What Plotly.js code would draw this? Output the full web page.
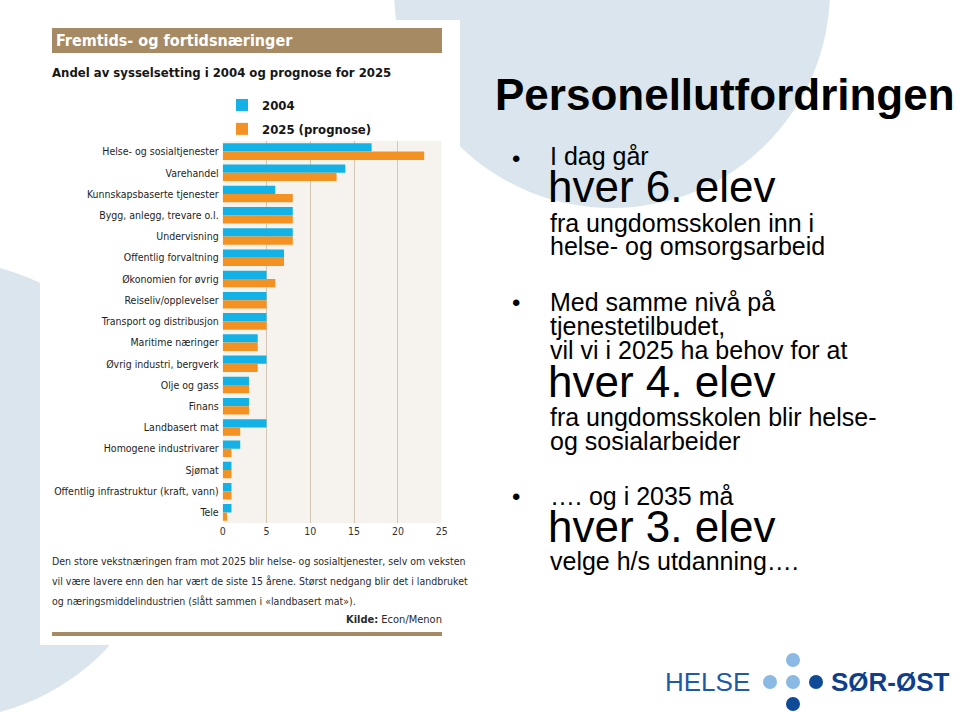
<!DOCTYPE html>
<html>
<head>
<meta charset="utf-8">
<script src="https://cdn.plot.ly/plotly-3.0.1.min.js"></script>
<style>html,body{margin:0;padding:0;background:#fff;}#chart{width:960px;height:712px;}</style>
</head>
<body>
<div id="chart"></div>
<script>
// ---- data ----
const categories = ["Helse- og sosialtjenester","Varehandel","Kunnskapsbaserte tjenester","Bygg, anlegg, trevare o.l.","Undervisning","Offentlig forvaltning","Økonomien for øvrig","Reiseliv/opplevelser","Transport og distribusjon","Maritime næringer","Øvrig industri, bergverk","Olje og gass","Finans","Landbasert mat","Homogene industrivarer","Sjømat","Offentlig infrastruktur (kraft, vann)","Tele"];
const values2004 = [17,14,6,8,8,7,5,5,5,4,5,3,3,5,2,1,1,1];
const values2025 = [23,13,8,8,8,7,6,5,5,4,4,3,3,2,1,1,1,0.5];
const seriesNames = ["2004","2025 (prognose)"];
const xTicks = [0,5,10,15,20,25];

const W = 960, H = 712;
const X = p => p / W;
const Y = p => 1 - p / H;
const NARROW = "Liberation Sans Narrow, DejaVu Sans Condensed, Arial Narrow, sans-serif";
const ARIAL = "Liberation Sans, Arial, sans-serif";
const plotTop = 141, plotBottom = 523, plotLeft = 222.7, plotRight = 441.7;

const traces = [
  {type:'bar', orientation:'h', name:seriesNames[0], y:categories, x:values2004,
   marker:{color:'#12b2e6'}, legendgroup:'a', hoverinfo:'x+y'},
  {type:'bar', orientation:'h', name:seriesNames[1], y:categories, x:values2025,
   marker:{color:'#f39122'}, legendgroup:'b', hoverinfo:'x+y'}
];

function circ(cx, cy, r, color){
  return {type:'circle', xref:'paper', yref:'paper', x0:X(cx-r), x1:X(cx+r), y0:Y(cy+r), y1:Y(cy-r),
          fillcolor:color, line:{width:0}, layer:'below'};
}
function rect(x0,y0,x1,y1,color){
  return {type:'rect', xref:'paper', yref:'paper', x0:X(x0), x1:X(x1), y0:Y(y1), y1:Y(y0),
          fillcolor:color, line:{width:0}, layer:'below'};
}
function dot(cx, cy, r, color){
  const s = circ(cx, cy, r, color); s.layer = 'above'; return s;
}

const shapes = [
  circ(612, -10, 218, '#dae5ed'),
  circ(-60, 490, 230, '#dae5ed'),
  rect(40, 20, 460, 645, '#ffffff'),
  {type:'rect', xref:'x', yref:'paper', x0:0, x1:25, y0:Y(plotBottom), y1:Y(plotTop),
   fillcolor:'#f6f3ee', line:{width:0}, layer:'below'},
  rect(52, 28, 442, 53, '#a68a64'),
  rect(52, 632, 442, 636, '#a68a64'),
  // logo dots
  dot(793, 660, 7, '#8ab9e3'),
  dot(770, 682, 7, '#8ab9e3'),
  dot(793, 682, 7, '#8ab9e3'),
  dot(816, 682, 7, '#0f4a96'),
  dot(793, 704, 7, '#0f4a96')
];

function ann(text, x, y, size, opts){
  opts = opts || {};
  return Object.assign({xref:'paper', yref:'paper', x:X(x), y:Y(y), text:text, showarrow:false,
    xanchor:'left', yanchor:'middle', align:'left', borderpad:0, borderwidth:0,
    font:{family:opts.family || ARIAL, size:size, color:opts.color || '#000'}}, opts.extra || {});
}

const annotations = [
  ann('<b>Fremtids- og fortidsnæringer</b>', 56, 40.5, 16, {family:NARROW, color:'#ffffff'}),
  ann('<b>Andel av sysselsetting i 2004 og prognose for 2025</b>', 52, 72, 13, {family:NARROW, color:'#161616'}),
  ann('Den store vekstnæringen fram mot 2025 blir helse- og sosialtjenester, selv om veksten', 52, 561, 10.5, {family:NARROW, color:'#2a2a2a'}),
  ann('vil være lavere enn den har vært de siste 15 årene. Størst nedgang blir det i landbruket', 52, 581, 10.5, {family:NARROW, color:'#2a2a2a'}),
  ann('og næringsmiddelindustrien (slått sammen i «landbasert mat»).', 52, 601, 10.5, {family:NARROW, color:'#2a2a2a'}),
  ann('<b>Kilde:</b> Econ/Menon', 442, 619, 11, {family:NARROW, color:'#2a2a2a', extra:{xanchor:'right', align:'right'}}),

  ann('<b>Personellutfordringen</b>', 495, 95, 44),
  ann('•', 512, 158, 24),
  ann('I dag går', 550, 156, 25),
  ann('hver 6. elev', 548, 186, 44),
  ann('fra ungdomsskolen inn i', 550, 223, 25),
  ann('helse- og omsorgsarbeid', 550, 246, 25),
  ann('•', 512, 302, 24),
  ann('Med samme nivå på', 550, 302, 25),
  ann('tjenestetilbudet,', 550, 326, 25),
  ann('vil vi i 2025 ha behov for at', 550, 349.5, 25),
  ann('hver 4. elev', 548, 381, 44),
  ann('fra ungdomsskolen blir helse-', 550, 417, 25),
  ann('og sosialarbeider', 550, 441, 25),
  ann('•', 512, 496, 24),
  ann('…. og i 2035 må', 550, 496, 25),
  ann('hver 3. elev', 548, 526, 44),
  ann('velge h/s utdanning….', 550, 561, 25),

  ann('HELSE', 665, 682, 26, {color:'#1f5aa6'}),
  ann('<b>SØR-ØST</b>', 831, 682, 26, {color:'#0f3f8c'})
];

const layout = {
  width:W, height:H,
  margin:{l:0, r:0, t:0, b:0, pad:0},
  paper_bgcolor:'#ffffff', plot_bgcolor:'rgba(0,0,0,0)',
  barmode:'group', bargap:0.22, bargroupgap:0,
  showlegend:true,
  legend:{x:X(222), y:Y(90), xanchor:'left', yanchor:'top', orientation:'v',
          traceorder:'grouped', tracegroupgap:4, bgcolor:'rgba(0,0,0,0)',
          font:{family:NARROW, size:13, color:'#161616', weight:'bold'},
          itemwidth:30},
  xaxis:{domain:[X(plotLeft), X(plotRight)], range:[0,25], tickvals:xTicks, ticktext:xTicks.map(String),
         showgrid:true, gridcolor:'#d3c6b4', gridwidth:1, zeroline:false, showline:false,
         ticks:'', tickfont:{family:NARROW, size:10.5, color:'#333'}, fixedrange:true},
  yaxis:{domain:[Y(plotBottom), Y(plotTop)], autorange:'reversed', type:'category',
         showgrid:false, zeroline:false, showline:false, ticks:'', ticklabelstandoff:3,
         tickfont:{family:NARROW, size:10.5, color:'#1e1e1e'}, fixedrange:true},
  shapes:shapes,
  annotations:annotations,
  font:{family:ARIAL}
};

Plotly.newPlot('chart', traces, layout, {displayModeBar:false, staticPlot:true});
</script>
</body>
</html>
